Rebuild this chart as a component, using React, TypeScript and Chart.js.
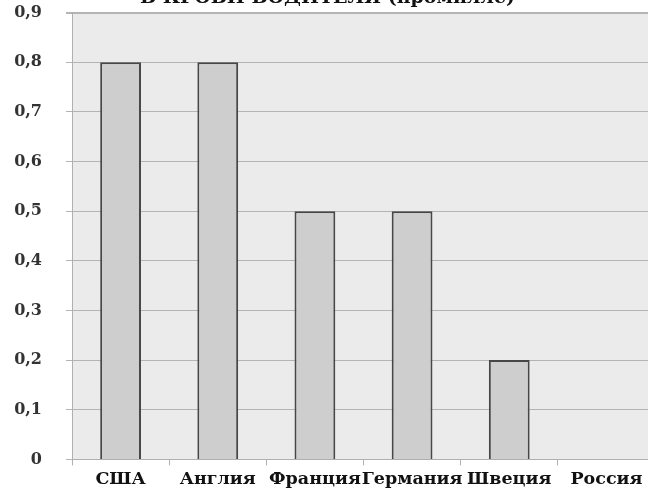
import React, { useEffect, useRef } from "react";
import { Chart, registerables } from "chart.js";

Chart.register(...registerables);

const categories = ["США", "Англия", "Франция", "Германия", "Швеция", "Россия"];
const values = [0.8, 0.8, 0.5, 0.5, 0.2, 0];
const titleText = "В КРОВИ ВОДИТЕЛЯ (промилле)";
const yMin = 0;
const yMax = 0.9;
const yStep = 0.1;

const CW = 656;
const CH = 514;
const TOP = 21;
const FONT = "'DejaVu Serif', 'Liberation Serif', serif";

const plotBg = {
  id: "plotBg",
  beforeDraw(chart: any) {
    const { ctx, chartArea } = chart;
    if (!chartArea) return;
    ctx.save();
    ctx.fillStyle = "#ebebeb";
    ctx.fillRect(chartArea.left, chartArea.top, chartArea.right - chartArea.left, chartArea.bottom - chartArea.top);
    ctx.restore();
  },
};

export default function App() {
  const ref = useRef<HTMLCanvasElement | null>(null);
  useEffect(() => {
    if (!ref.current) return;
    const chart = new Chart(ref.current, {
      type: "bar",
      data: {
        labels: categories,
        datasets: [
          {
            data: values,
            backgroundColor: "#cecece",
            borderColor: "#474747",
            borderWidth: 2,
            barPercentage: 0.42,
            categoryPercentage: 1,
          },
        ],
      },
      options: {
        responsive: false,
        animation: false,
        layout: { padding: { left: 0, right: 1, top: 0, bottom: 0 } },
        plugins: {
          legend: { display: false },
          tooltip: { enabled: false },
          title: {
            display: true,
            text: titleText,
            color: "#111",
            font: { family: FONT, size: 19, weight: "bold" },
            padding: { top: 0, bottom: 3 },
          },
        },
        scales: {
          x: {
            grid: {
              display: true,
              drawOnChartArea: false,
              drawTicks: true,
              tickLength: 6,
              offset: true,
              color: "#b0b0b0",
            },
            border: { display: true, color: "#b0b0b0", width: 1 },
            ticks: {
              color: "#111",
              font: { family: FONT, size: 17.5, weight: "bold" },
              maxRotation: 0,
              autoSkip: false,
              padding: 4,
            },
            afterFit(scale: any) {
              scale.height = 33;
            },
          },
          y: {
            min: yMin,
            max: yMax,
            grid: {
              color: "#b4b4b4",
              lineWidth: (c: any) => (c.index === 9 ? 2 : 1),
              tickLength: 6,
            },
            border: { display: true, color: "#b0b0b0", width: 1 },
            ticks: {
              stepSize: yStep,
              color: "#333",
              font: { family: FONT, size: 16, weight: "bold" },
              padding: 24,
              callback: (v: any) => (Number(v) === 0 ? "0" : Number(v).toFixed(1).replace(".", ",")),
            },
            afterFit(scale: any) {
              scale.width = 72;
            },
          },
        },
      },
      plugins: [plotBg],
    });
    return () => chart.destroy();
  }, []);

  return (
    <div
      style={{
        position: "fixed",
        left: 0,
        top: 0,
        width: 648,
        height: 490,
        overflow: "hidden",
        background: "#fff",
      }}
    >
      <canvas
        ref={ref}
        width={CW}
        height={CH}
        style={{ position: "absolute", left: 0, top: -TOP, width: CW, height: CH }}
      />
    </div>
  );
}
